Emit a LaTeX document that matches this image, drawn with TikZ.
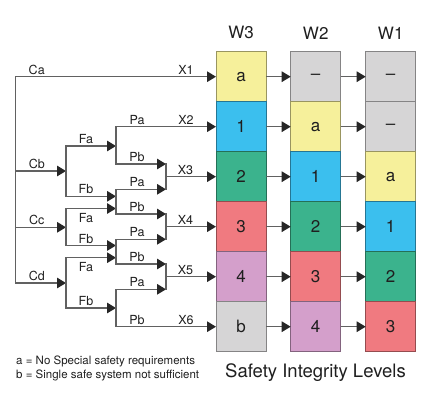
\documentclass[tikz,border=0pt]{standalone}
\usepackage{fontspec}
\setmainfont{TeX Gyre Heros}
\usetikzlibrary{arrows.meta,positioning}
\definecolor{silyellow}{HTML}{F6F09B}
\definecolor{silblue}{HTML}{3BBFEE}
\definecolor{silgreen}{HTML}{3BB38D}
\definecolor{silred}{HTML}{F07A80}
\definecolor{silpurple}{HTML}{D49FCB}
\definecolor{silgrey}{HTML}{D6D5D6}
\tikzstyle{arrow} = [line width=1.35pt, draw=black!62, -{Triangle[length=9pt,width=10.5pt,color=black!85]}]
\tikzstyle{line} = [line width=1.35pt, draw=black!62, line cap=rect]
\tikzstyle{lbl} = [font=\fontsize{12.5}{12.5}\selectfont, text=black!88, inner sep=1.5pt, above]
\tikzstyle{head} = [font=\fontsize{17}{17}\selectfont, text=black!88, inner sep=0pt]
\tikzstyle{level} = [rectangle, minimum width=50pt, minimum height=50pt, inner sep=0pt, outer sep=0pt, line width=1pt, text centered, text=black!88, font=\fontsize{17}{17}\selectfont]
\tikzstyle{silA} = [level, fill=silyellow, draw=silyellow!62!black]
\tikzstyle{silI} = [level, fill=silblue, draw=silblue!62!black]
\tikzstyle{silII} = [level, fill=silgreen, draw=silgreen!62!black]
\tikzstyle{silIII} = [level, fill=silred, draw=silred!62!black]
\tikzstyle{silIV} = [level, fill=silpurple, draw=silpurple!62!black]
\tikzstyle{silX} = [level, fill=silgrey, draw=silgrey!62!black]
\begin{document}
\begin{tikzpicture}[x=1pt,y=-1pt]
	\useasboundingbox (0,0) rectangle (430,400);
	% levels W3
	\node (W3r1) [silA] at (241,76.7) {a};
	\node (W3r2) [silI, below = 0pt of W3r1] {1};
	\node (W3r3) [silII, below = 0pt of W3r2] {2};
	\node (W3r4) [silIII, below = 0pt of W3r3] {3};
	\node (W3r5) [silIV, below = 0pt of W3r4] {4};
	\node (W3r6) [silX, below = 0pt of W3r5] {b};
	% levels W2
	\node (W2r1) [silX, right = 24.7pt of W3r1] {--};
	\node (W2r2) [silA, below = 0pt of W2r1] {a};
	\node (W2r3) [silI, below = 0pt of W2r2] {1};
	\node (W2r4) [silII, below = 0pt of W2r3] {2};
	\node (W2r5) [silIII, below = 0pt of W2r4] {3};
	\node (W2r6) [silIV, below = 0pt of W2r5] {4};
	% levels W1
	\node (W1r1) [silX, right = 25pt of W2r1] {--};
	\node (W1r2) [silX, below = 0pt of W1r1] {--};
	\node (W1r3) [silA, below = 0pt of W1r2] {a};
	\node (W1r4) [silI, below = 0pt of W1r3] {1};
	\node (W1r5) [silII, below = 0pt of W1r4] {2};
	\node (W1r6) [silIII, below = 0pt of W1r5] {3};

	\node (W3) [head, above = 12.4pt of W3r1] {W3};
	\node (W2) [head, above = 12.4pt of W2r1] {W2};
	\node (W1) [head, above = 12.4pt of W1r1] {W1};
	\node (SIL) [anchor=base, inner sep=0pt, text=black!88, font=\fontsize{18.5}{18.5}\selectfont] at (315.5,377.5) {Safety Integrity Levels};
	\node (LegendA) [anchor=base west, inner sep=0pt, text=black!88, font=\fontsize{11.5}{11.5}\selectfont] at (16,364) {a = No Special safety requirements};
	\node (LegendB) [anchor=base west, inner sep=0pt, text=black!88, font=\fontsize{11.5}{11.5}\selectfont] at (16,378.3) {b = Single safe system not sufficient};

	\draw[arrow] (W3r1) -- (W2r1);
	\draw[arrow] (W3r2) -- (W2r2);
	\draw[arrow] (W3r3) -- (W2r3);
	\draw[arrow] (W3r4) -- (W2r4);
	\draw[arrow] (W3r5) -- (W2r5);
	\draw[arrow] (W3r6) -- (W2r6);
	\draw[arrow] (W2r1) -- (W1r1);
	\draw[arrow] (W2r2) -- (W1r2);
	\draw[arrow] (W2r3) -- (W1r3);
	\draw[arrow] (W2r4) -- (W1r4);
	\draw[arrow] (W2r5) -- (W1r5);
	\draw[arrow] (W2r6) -- (W1r6);

	% risk graph
	\coordinate (Top) at (15.7,76.7);
	\coordinate (Cb) at (15.7,171);
	\coordinate (Cc) at (15.7,227.3);
	\coordinate (Cd) at (15.7,283);
	\coordinate (FCb) at (66,171);
	\coordinate (FCc) at (66,227.3);
	\coordinate (FCd) at (66,283);
	\coordinate (FaCb) at (66,146);
	\coordinate (FbCb) at (66,196.3);
	\coordinate (FaCc) at (66,208.5);
	\coordinate (FbCc) at (66,245.5);
	\coordinate (FaCd) at (66,257.7);
	\coordinate (FbCd) at (66,308);
	\coordinate (P1a) at (116,126.7);
	\coordinate (P1b) at (116,164);
	\coordinate (P2a) at (116,189.3);
	\coordinate (P2b) at (116,214);
	\coordinate (P3a) at (116,239.3);
	\coordinate (P3b) at (116,264);
	\coordinate (P4a) at (116,289.3);
	\coordinate (P4b) at (116,326.7);
	\coordinate (M3a) at (166,164);
	\coordinate (M3b) at (166,189.3);
	\coordinate (M4a) at (166,214);
	\coordinate (M4b) at (166,239.3);
	\coordinate (M5a) at (166,264);
	\coordinate (M5b) at (166,289.3);
	\coordinate (M3) at (166,176.7);
	\coordinate (M4) at (166,226.7);
	\coordinate (M5) at (166,276.7);

	\draw[line] (Top) -- (Cd);
	\draw[arrow] (Top) -- node[lbl,pos=0.105]{Ca} node[lbl,pos=0.85]{X1} (W3r1);
	\draw[arrow] (Cb) -- node[lbl,pos=0.42]{Cb} (FCb);
	\draw[arrow] (Cc) -- node[lbl,pos=0.42]{Cc} (FCc);
	\draw[arrow] (Cd) -- node[lbl,pos=0.42]{Cd} (FCd);
	\draw[line] (FaCb) -- (FbCb);
	\draw[line] (FaCc) -- (FbCc);
	\draw[line] (FaCd) -- (FbCd);
	\draw[arrow] (FaCb) -- node[lbl,pos=0.4]{Fa} (FaCb -| P1a);
	\draw[arrow] (FbCb) -- node[lbl,pos=0.4]{Fb} (FbCb -| P2a);
	\draw[arrow] (FaCc) -- node[lbl,pos=0.4,below=2.5pt]{Fa} (FaCc -| P2a);
	\draw[arrow] (FbCc) -- node[lbl,pos=0.4]{Fb} (FbCc -| P3a);
	\draw[arrow] (FaCd) -- node[lbl,pos=0.4,below=2.5pt]{Fa} (FaCd -| P3a);
	\draw[arrow] (FbCd) -- node[lbl,pos=0.4]{Fb} (FbCd -| P4a);

	\draw[line] (P1a) -- (P1b);
	\draw[line] (P2a) -- (P2b);
	\draw[line] (P3a) -- (P3b);
	\draw[line] (P4a) -- (P4b);
	\draw[arrow] (P1a) -- node[lbl,pos=0.21]{Pa} node[lbl,pos=0.7]{X2} (W3r2);
	\draw[arrow] (P1b) -- node[lbl,pos=0.42]{Pb} (M3a);
	\draw[arrow] (P2a) -- node[lbl,pos=0.42]{Pa} (M3b);
	\draw[arrow] (P2b) -- node[lbl,pos=0.42]{Pb} (M4a);
	\draw[arrow] (P3a) -- node[lbl,pos=0.42]{Pa} (M4b);
	\draw[arrow] (P3b) -- node[lbl,pos=0.42]{Pb} (M5a);
	\draw[arrow] (P4a) -- node[lbl,pos=0.42]{Pa} (M5b);
	\draw[arrow] (P4b) -- node[lbl,pos=0.21]{Pb} node[lbl,pos=0.7]{X6} (W3r6);

	\draw[line] (M3a) -- (M3b);
	\draw[line] (M4a) -- (M4b);
	\draw[line] (M5a) -- (M5b);
	\draw[arrow] (M3) -- node[lbl,pos=0.39]{X3} (W3r3);
	\draw[arrow] (M4) -- node[lbl,pos=0.39]{X4} (W3r4);
	\draw[arrow] (M5) -- node[lbl,pos=0.39]{X5} (W3r5);
\end{tikzpicture}
\end{document}
